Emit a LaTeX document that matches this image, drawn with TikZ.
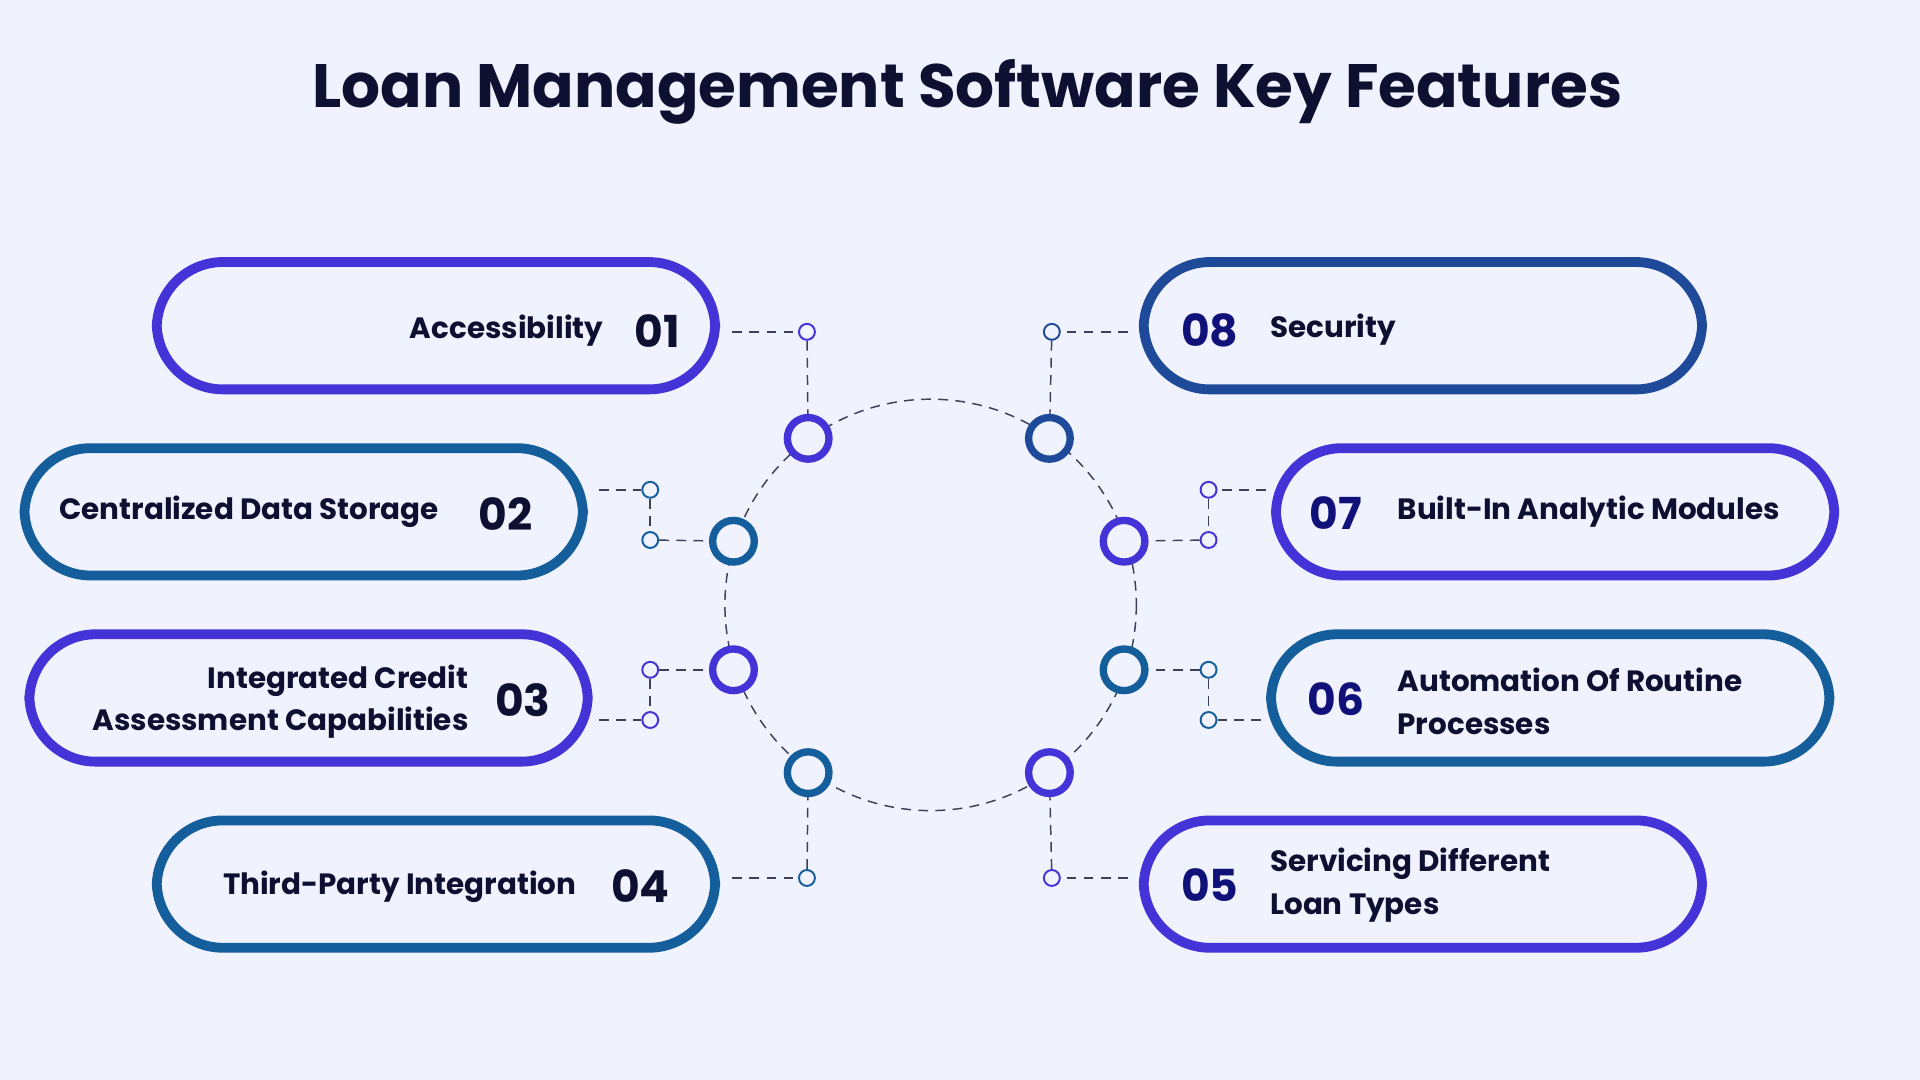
\documentclass[tikz,border=0pt]{standalone}
\usepackage{fontspec}
\setmainfont{Poppins}
\begin{document}
\definecolor{bg}{HTML}{F0F2FE}
\definecolor{pur}{HTML}{4433D6}
\definecolor{dbl}{HTML}{1F4A9A}
\definecolor{tea}{HTML}{155E9C}
\definecolor{ink}{HTML}{0D1030}
\definecolor{num}{HTML}{10127A}
\begin{tikzpicture}[x=0.5pt,y=-0.5pt,
 pill/.style={draw=#1,line width=4pt,fill=bg,rounded corners=27pt,minimum width=228pt,minimum height=52pt,inner sep=0pt},
 big/.style={circle,draw=#1,line width=3pt,fill=bg,minimum size=17pt,inner sep=0pt},
 sm/.style={circle,draw=#1,line width=0.8pt,fill=bg,minimum size=6.5pt,inner sep=0pt},
 dl/.style={draw=ink!80,line width=0.6pt,dash pattern=on 4pt off 3pt},
 lab/.style={font=\bfseries\fontsize{12}{17.5}\selectfont,text=ink,inner sep=0pt},
 nm/.style={font=\bfseries\fontsize{18}{22}\selectfont,text=#1,inner sep=0pt}]
\fill[bg] (0,0) rectangle (1568,882);
\useasboundingbox (0,0) rectangle (1568,882);
\node[font=\bfseries\fontsize{25}{30}\selectfont,text=ink] (title) at (790,75) {Loan Management Software Key Features};
\draw[dl] (760,494) circle[radius=168];
% pills
\node[pill=pur] (p1) at (356,266) {};
\node[pill=tea] (p2) at (248,418) {};
\node[pill=pur] (p3) at (252,570) {};
\node[pill=tea] (p4) at (356,722) {};
\node[pill=dbl] (p8) at (1162,266) {};
\node[pill=pur] (p7) at (1270,418) {};
\node[pill=tea] (p6) at (1266,570) {};
\node[pill=pur] (p5) at (1162,722) {};
% texts
\node[lab,anchor=east] (t1) at (493,270) {Accessibility};
\node[nm=ink] (n1) at (537,270) {01};
\node[lab,anchor=west] (t2) at (48,418) {Centralized Data Storage};
\node[nm=ink] (n2) at (413,420) {02};
\node[lab,anchor=east,align=right] (t3) at (383,573) {Integrated Credit\\Assessment Capabilities};
\node[nm=ink] (n3) at (427,572) {03};
\node[lab,anchor=east] (t4) at (471,724) {Third-Party Integration};
\node[nm=ink] (n4) at (523,724) {04};
\node[nm=num] (n8) at (988,270) {08};
\node[lab,anchor=west] (t8) at (1037,269) {Security};
\node[nm=num] (n7) at (1091,419) {07};
\node[lab,anchor=west] (t7) at (1141,418) {Built-In Analytic Modules};
\node[nm=num] (n6) at (1091,571) {06};
\node[lab,anchor=west,align=left] (t6) at (1141,573) {Automation Of Routine\\Processes};
\node[nm=num] (n5) at (988,723) {05};
\node[lab,anchor=west,align=left] (t5) at (1037,723) {Servicing Different\\Loan Types};
% big circles
\node[big=pur] (b1) at (660,358) {};
\node[big=dbl] (b8) at (857,358) {};
\node[big=tea] (b2) at (599,442) {};
\node[big=pur] (b7) at (918,442) {};
\node[big=pur] (b3) at (599,547) {};
\node[big=tea] (b6) at (918,547) {};
\node[big=tea] (b4) at (660,631) {};
\node[big=pur] (b5) at (857,631) {};
% small circles
\node[sm=pur] (s1) at (659,271) {};
\node[sm=tea] (s2a) at (531,400) {};
\node[sm=tea] (s2b) at (531,441) {};
\node[sm=pur] (s3a) at (531,547) {};
\node[sm=pur] (s3b) at (531,588) {};
\node[sm=tea] (s4) at (659,717) {};
\node[sm=dbl] (s8) at (859,271) {};
\node[sm=pur] (s7a) at (987,400) {};
\node[sm=pur] (s7b) at (987,441) {};
\node[sm=tea] (s6a) at (987,547) {};
\node[sm=tea] (s6b) at (987,588) {};
\node[sm=pur] (s5) at (859,717) {};
% connectors
\coordinate (c1) at (598,271); \coordinate (c2) at (489,400); \coordinate (c3) at (489,588); \coordinate (c4) at (598,717);
\coordinate (c8) at (921,271); \coordinate (c7) at (1034,400); \coordinate (c6) at (1030,588); \coordinate (c5) at (921,717);
\draw[dl] (c1) -- (s1); \draw[dl] (s1) -- (b1);
\draw[dl] (c2) -- (s2a); \draw[dl] (s2a) -- (s2b); \draw[dl] (s2b) -- (b2);
\draw[dl] (c3) -- (s3b); \draw[dl] (s3a) -- (s3b); \draw[dl] (s3a) -- (b3);
\draw[dl] (c4) -- (s4); \draw[dl] (s4) -- (b4);
\draw[dl] (c8) -- (s8); \draw[dl] (s8) -- (b8);
\draw[dl] (c7) -- (s7a); \draw[dl] (s7a) -- (s7b); \draw[dl] (s7b) -- (b7);
\draw[dl] (c6) -- (s6b); \draw[dl] (s6a) -- (s6b); \draw[dl] (s6a) -- (b6);
\draw[dl] (c5) -- (s5); \draw[dl] (s5) -- (b5);
\end{tikzpicture}
\end{document}
